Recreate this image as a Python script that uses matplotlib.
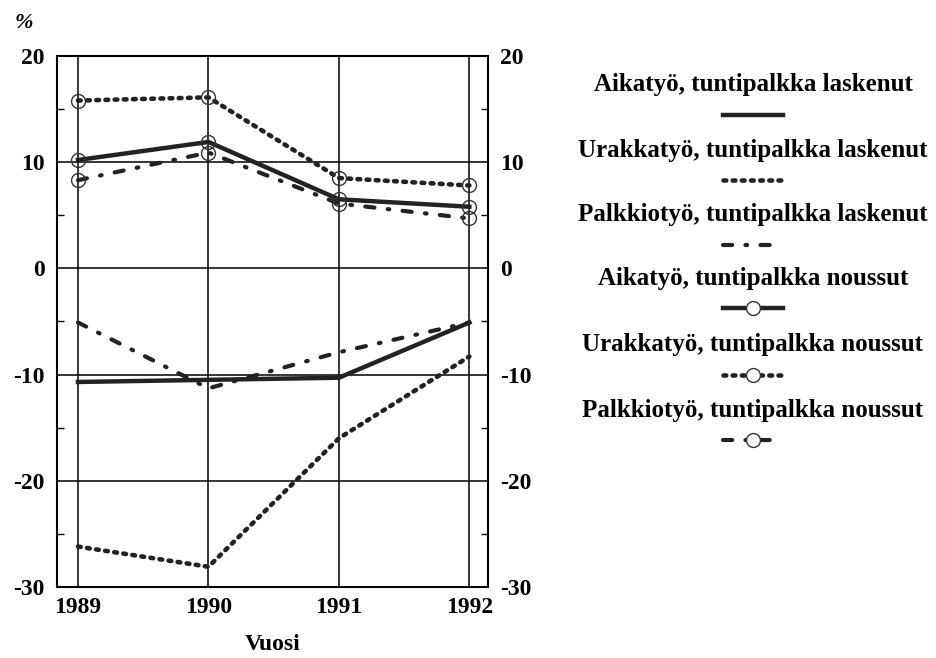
import numpy as np
import matplotlib
matplotlib.use('Agg')
from matplotlib import pyplot as plt
from matplotlib.lines import Line2D
from matplotlib.ticker import MultipleLocator

plt.rcParams['font.family'] = 'Liberation Serif'
plt.rcParams['font.weight'] = 'bold'
plt.rcParams['axes.unicode_minus'] = False

# Data
years = [1989, 1990, 1991, 1992]
labels = ['Aikatyö, tuntipalkka laskenut', 'Urakkatyö, tuntipalkka laskenut',
          'Palkkiotyö, tuntipalkka laskenut', 'Aikatyö, tuntipalkka noussut',
          'Urakkatyö, tuntipalkka noussut', 'Palkkiotyö, tuntipalkka noussut']
aika_lask = [-10.7, -10.5, -10.3, -5.1]
urakka_lask = [-26.2, -28.1, -16.0, -8.3]
palkkio_lask = [-5.1, -11.3, -7.9, -5.1]
aika_nous = [10.2, 11.9, 6.5, 5.8]
urakka_nous = [15.8, 16.1, 8.5, 7.8]
palkkio_nous = [8.3, 10.9, 6.1, 4.7]
yticks = [-30, -20, -10, 0, 10, 20]

series = [aika_lask, urakka_lask, palkkio_lask, aika_nous, urakka_nous, palkkio_nous]

solid = dict(linestyle='-', linewidth=3.2)
dotted = dict(linestyle=(0, (0.6, 1.4)), linewidth=3.3, dash_capstyle='round')
dashdot = dict(linestyle=(0, (2.2, 3.2, 0.4, 3.2)), linewidth=3.0, dash_capstyle='round')
styles = [solid, dotted, dashdot, solid, dotted, dashdot]
has_marker = [False, False, False, True, True, True]

fig = plt.figure(figsize=(9.36, 6.58), dpi=100)
ax = fig.add_axes([0.061, 0.108, 0.46, 0.807])

for vals, st, mk in zip(series, styles, has_marker):
    kw = dict(color='#222222')
    kw.update(st)
    if mk:
        kw.update(marker='o', markersize=10, markerfacecolor='none',
                  markeredgecolor='#333333', markeredgewidth=1.0)
    ax.plot(years, vals, **kw)

ax.set_xlim(1988.84, 1992.14)
ax.set_ylim(-30, 20)
ax.set_xticks(years)
ax.set_yticks(yticks)
ax.yaxis.set_minor_locator(MultipleLocator(5))
ax.grid(True, which='major', color='black', linewidth=1.1)
ax.set_axisbelow(True)
ax.tick_params(axis='both', which='major', length=0, labelsize=17, pad=9)
ax.tick_params(axis='x', which='major', pad=7)
ax.tick_params(axis='y', which='minor', direction='in', length=5, width=1,
               left=True, right=True)
ax.tick_params(axis='y', which='major', labelright=True, right=True)
for sp in ax.spines.values():
    sp.set_linewidth(1.5)
for lab in ax.get_xticklabels() + ax.get_yticklabels():
    lab.set_fontweight('bold')

ax.set_xlabel('Vuosi', fontsize=17, fontweight='bold', labelpad=12)
fig.text(0.016, 0.965, '%', fontsize=16, fontweight='bold', style='italic',
         ha='left', va='center')

# Legend, drawn as stacked text with sample line under each label
W, H = 936, 658
cx = 753
text_y = [85, 150, 215, 278, 345, 410]
for i, (lab, st, mk) in enumerate(zip(labels, styles, has_marker)):
    ty = text_y[i]
    fig.text(cx / W, 1 - ty / H, lab, fontsize=18, fontweight='bold',
             ha='center', va='center')
    sy = 1 - (ty + 30) / H
    kw = dict(color='#222222', transform=fig.transFigure)
    kw.update(st)
    xs = np.array([cx - 30, cx + 30]) / W
    fig.add_artist(Line2D(xs, [sy, sy], **kw))
    if mk:
        fig.add_artist(Line2D([cx / W], [sy], marker='o', markersize=10,
                              markerfacecolor='white', markeredgecolor='#333333',
                              markeredgewidth=1.0, linestyle='none',
                              transform=fig.transFigure))

fig.savefig('out.png', dpi=100)
